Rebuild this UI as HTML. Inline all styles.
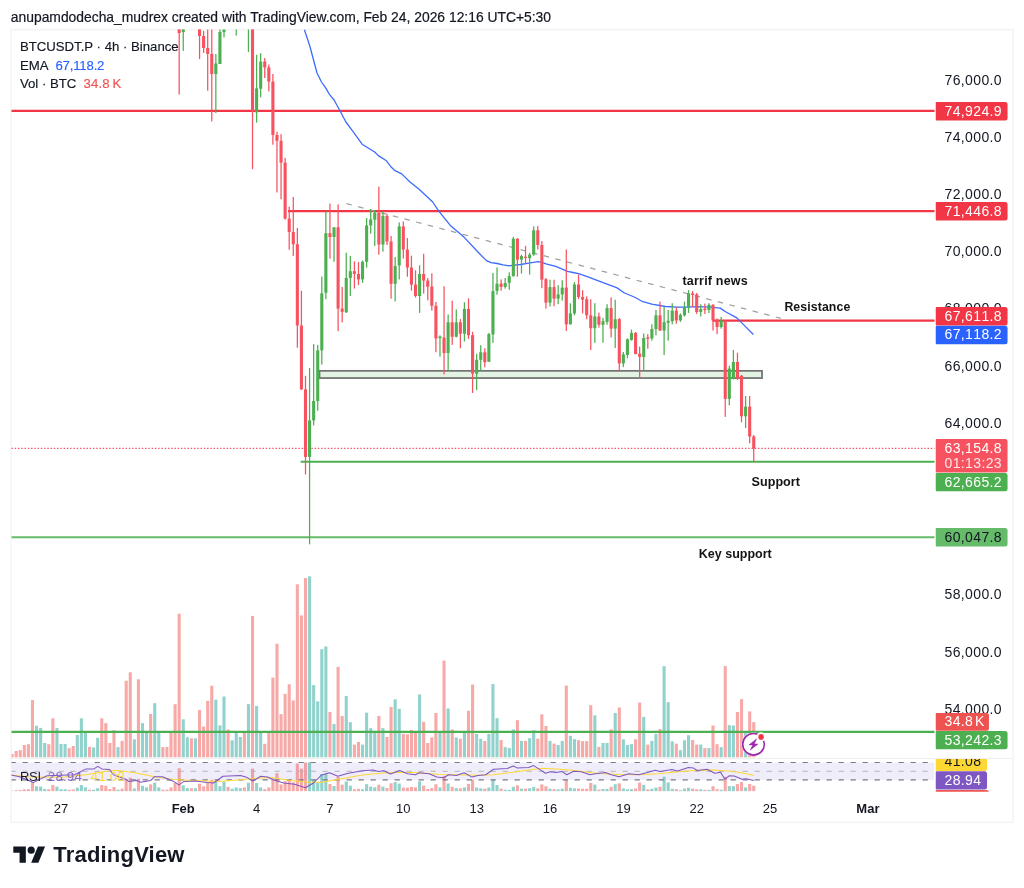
<!DOCTYPE html><html><head><meta charset="utf-8"><title>BTCUSDT.P chart</title><style>
html,body{margin:0;padding:0;background:#fff}
body{width:1024px;height:888px;position:relative;overflow:hidden;font-family:"Liberation Sans",Arial,sans-serif;color:#131722}
.t{position:absolute;white-space:nowrap;line-height:1}
.ax{font-size:14px;letter-spacing:.38px;left:944.5px;font-kerning:none}
.lt{font-size:14px;letter-spacing:.38px;left:944.5px;font-kerning:none}
.tm{font-size:13px;top:801.9px;transform:translateX(-50%)}
.b{font-weight:bold}
.an{font-weight:bold;font-size:12.5px;color:#141414}
.lg{font-size:13.2px;left:19.9px;-webkit-text-stroke:.15px currentColor}

</style></head><body>
<svg width="1024" height="888" viewBox="0 0 1024 888" style="position:absolute;left:0;top:0">
<defs><clipPath id="cm"><rect x="11.5" y="29.5" width="923" height="728.5"/></clipPath><clipPath id="cr"><rect x="11.5" y="759" width="923" height="32.5"/></clipPath></defs>
<rect x="11.1" y="29.7" width="1002.1" height="792.6" fill="#fff" stroke="#F3F3F4" stroke-width="1.4"/>
<line x1="11.5" y1="758.5" x2="1013.5" y2="758.5" stroke="#EFEFF1" stroke-width="1.2"/>
<g clip-path="url(#cm)">
<rect x="10.55" y="754.00" width="3.1" height="3.30" fill="#F7A9A7"/>
<rect x="14.62" y="751.00" width="3.1" height="6.30" fill="#F7A9A7"/>
<rect x="18.70" y="750.10" width="3.1" height="7.20" fill="#F7A9A7"/>
<rect x="22.77" y="745.00" width="3.1" height="12.30" fill="#F7A9A7"/>
<rect x="26.85" y="744.20" width="3.1" height="13.10" fill="#F7A9A7"/>
<rect x="30.92" y="700.10" width="3.1" height="57.20" fill="#F7A9A7"/>
<rect x="35.00" y="725.70" width="3.1" height="31.60" fill="#92D2CC"/>
<rect x="39.08" y="728.00" width="3.1" height="29.30" fill="#92D2CC"/>
<rect x="43.15" y="743.00" width="3.1" height="14.30" fill="#92D2CC"/>
<rect x="47.23" y="744.20" width="3.1" height="13.10" fill="#F7A9A7"/>
<rect x="51.30" y="718.30" width="3.1" height="39.00" fill="#F7A9A7"/>
<rect x="55.38" y="728.00" width="3.1" height="29.30" fill="#92D2CC"/>
<rect x="59.45" y="744.00" width="3.1" height="13.30" fill="#92D2CC"/>
<rect x="63.53" y="744.00" width="3.1" height="13.30" fill="#92D2CC"/>
<rect x="67.60" y="748.10" width="3.1" height="9.20" fill="#F7A9A7"/>
<rect x="71.67" y="746.00" width="3.1" height="11.30" fill="#F7A9A7"/>
<rect x="75.75" y="735.00" width="3.1" height="22.30" fill="#92D2CC"/>
<rect x="79.83" y="718.30" width="3.1" height="39.00" fill="#92D2CC"/>
<rect x="83.90" y="732.90" width="3.1" height="24.40" fill="#92D2CC"/>
<rect x="87.98" y="746.90" width="3.1" height="10.40" fill="#F7A9A7"/>
<rect x="92.05" y="747.50" width="3.1" height="9.80" fill="#92D2CC"/>
<rect x="96.13" y="737.80" width="3.1" height="19.50" fill="#92D2CC"/>
<rect x="100.20" y="718.30" width="3.1" height="39.00" fill="#F7A9A7"/>
<rect x="104.28" y="723.10" width="3.1" height="34.20" fill="#F7A9A7"/>
<rect x="108.35" y="743.00" width="3.1" height="14.30" fill="#F7A9A7"/>
<rect x="112.42" y="730.30" width="3.1" height="27.00" fill="#F7A9A7"/>
<rect x="116.50" y="747.10" width="3.1" height="10.20" fill="#92D2CC"/>
<rect x="120.58" y="740.90" width="3.1" height="16.40" fill="#F7A9A7"/>
<rect x="124.65" y="680.70" width="3.1" height="76.60" fill="#F7A9A7"/>
<rect x="128.72" y="672.30" width="3.1" height="85.00" fill="#F7A9A7"/>
<rect x="132.80" y="739.30" width="3.1" height="18.00" fill="#92D2CC"/>
<rect x="136.88" y="679.30" width="3.1" height="78.00" fill="#F7A9A7"/>
<rect x="140.95" y="723.10" width="3.1" height="34.20" fill="#92D2CC"/>
<rect x="145.02" y="732.90" width="3.1" height="24.40" fill="#92D2CC"/>
<rect x="149.10" y="713.90" width="3.1" height="43.40" fill="#F7A9A7"/>
<rect x="153.18" y="703.20" width="3.1" height="54.10" fill="#92D2CC"/>
<rect x="157.25" y="732.90" width="3.1" height="24.40" fill="#92D2CC"/>
<rect x="161.32" y="747.10" width="3.1" height="10.20" fill="#F7A9A7"/>
<rect x="165.40" y="746.80" width="3.1" height="10.50" fill="#F7A9A7"/>
<rect x="169.47" y="732.90" width="3.1" height="24.40" fill="#F7A9A7"/>
<rect x="173.55" y="704.20" width="3.1" height="53.10" fill="#F7A9A7"/>
<rect x="177.62" y="613.70" width="3.1" height="143.60" fill="#F7A9A7"/>
<rect x="181.70" y="719.30" width="3.1" height="38.00" fill="#92D2CC"/>
<rect x="185.77" y="737.30" width="3.1" height="20.00" fill="#92D2CC"/>
<rect x="189.85" y="738.30" width="3.1" height="19.00" fill="#F7A9A7"/>
<rect x="193.92" y="738.30" width="3.1" height="19.00" fill="#92D2CC"/>
<rect x="198.00" y="710.00" width="3.1" height="47.30" fill="#F7A9A7"/>
<rect x="202.07" y="726.60" width="3.1" height="30.70" fill="#F7A9A7"/>
<rect x="206.15" y="700.90" width="3.1" height="56.40" fill="#F7A9A7"/>
<rect x="210.22" y="685.70" width="3.1" height="71.60" fill="#F7A9A7"/>
<rect x="214.30" y="699.70" width="3.1" height="57.60" fill="#92D2CC"/>
<rect x="218.38" y="725.40" width="3.1" height="31.90" fill="#92D2CC"/>
<rect x="222.45" y="696.50" width="3.1" height="60.80" fill="#92D2CC"/>
<rect x="226.53" y="729.50" width="3.1" height="27.80" fill="#F7A9A7"/>
<rect x="230.60" y="740.30" width="3.1" height="17.00" fill="#92D2CC"/>
<rect x="234.67" y="733.00" width="3.1" height="24.30" fill="#92D2CC"/>
<rect x="238.75" y="737.00" width="3.1" height="20.30" fill="#92D2CC"/>
<rect x="242.82" y="733.00" width="3.1" height="24.30" fill="#F7A9A7"/>
<rect x="246.90" y="704.10" width="3.1" height="53.20" fill="#92D2CC"/>
<rect x="250.97" y="615.90" width="3.1" height="141.40" fill="#F7A9A7"/>
<rect x="255.05" y="705.90" width="3.1" height="51.40" fill="#92D2CC"/>
<rect x="259.12" y="733.00" width="3.1" height="24.30" fill="#92D2CC"/>
<rect x="263.20" y="743.80" width="3.1" height="13.50" fill="#F7A9A7"/>
<rect x="267.28" y="733.00" width="3.1" height="24.30" fill="#F7A9A7"/>
<rect x="271.35" y="677.60" width="3.1" height="79.70" fill="#F7A9A7"/>
<rect x="275.43" y="643.80" width="3.1" height="113.50" fill="#F7A9A7"/>
<rect x="279.50" y="714.10" width="3.1" height="43.20" fill="#F7A9A7"/>
<rect x="283.57" y="693.80" width="3.1" height="63.50" fill="#F7A9A7"/>
<rect x="287.65" y="684.30" width="3.1" height="73.00" fill="#F7A9A7"/>
<rect x="291.72" y="700.50" width="3.1" height="56.80" fill="#F7A9A7"/>
<rect x="295.80" y="584.30" width="3.1" height="173.00" fill="#F7A9A7"/>
<rect x="299.88" y="615.40" width="3.1" height="141.90" fill="#F7A9A7"/>
<rect x="303.95" y="578.10" width="3.1" height="179.20" fill="#F7A9A7"/>
<rect x="308.03" y="576.30" width="3.1" height="181.00" fill="#92D2CC"/>
<rect x="312.10" y="685.10" width="3.1" height="72.20" fill="#92D2CC"/>
<rect x="316.18" y="701.40" width="3.1" height="55.90" fill="#92D2CC"/>
<rect x="320.25" y="649.20" width="3.1" height="108.10" fill="#92D2CC"/>
<rect x="324.32" y="646.50" width="3.1" height="110.80" fill="#92D2CC"/>
<rect x="328.40" y="711.90" width="3.1" height="45.40" fill="#F7A9A7"/>
<rect x="332.48" y="724.10" width="3.1" height="33.20" fill="#92D2CC"/>
<rect x="336.55" y="666.80" width="3.1" height="90.50" fill="#F7A9A7"/>
<rect x="340.62" y="715.90" width="3.1" height="41.40" fill="#F7A9A7"/>
<rect x="344.70" y="695.90" width="3.1" height="61.40" fill="#92D2CC"/>
<rect x="348.77" y="722.20" width="3.1" height="35.10" fill="#92D2CC"/>
<rect x="352.85" y="744.60" width="3.1" height="12.70" fill="#F7A9A7"/>
<rect x="356.93" y="741.90" width="3.1" height="15.40" fill="#F7A9A7"/>
<rect x="361.00" y="744.60" width="3.1" height="12.70" fill="#92D2CC"/>
<rect x="365.07" y="712.70" width="3.1" height="44.60" fill="#92D2CC"/>
<rect x="369.15" y="728.10" width="3.1" height="29.20" fill="#92D2CC"/>
<rect x="373.23" y="732.20" width="3.1" height="25.10" fill="#92D2CC"/>
<rect x="377.30" y="715.90" width="3.1" height="41.40" fill="#F7A9A7"/>
<rect x="381.38" y="728.10" width="3.1" height="29.20" fill="#92D2CC"/>
<rect x="385.45" y="737.00" width="3.1" height="20.30" fill="#F7A9A7"/>
<rect x="389.52" y="707.00" width="3.1" height="50.30" fill="#F7A9A7"/>
<rect x="393.60" y="699.30" width="3.1" height="58.00" fill="#92D2CC"/>
<rect x="397.68" y="708.90" width="3.1" height="48.40" fill="#92D2CC"/>
<rect x="401.75" y="733.90" width="3.1" height="23.40" fill="#F7A9A7"/>
<rect x="405.82" y="734.30" width="3.1" height="23.00" fill="#F7A9A7"/>
<rect x="409.90" y="730.00" width="3.1" height="27.30" fill="#F7A9A7"/>
<rect x="413.98" y="732.90" width="3.1" height="24.40" fill="#F7A9A7"/>
<rect x="418.05" y="694.40" width="3.1" height="62.90" fill="#92D2CC"/>
<rect x="422.12" y="721.80" width="3.1" height="35.50" fill="#F7A9A7"/>
<rect x="426.20" y="743.00" width="3.1" height="14.30" fill="#F7A9A7"/>
<rect x="430.27" y="737.40" width="3.1" height="19.90" fill="#F7A9A7"/>
<rect x="434.35" y="713.00" width="3.1" height="44.30" fill="#F7A9A7"/>
<rect x="438.43" y="732.90" width="3.1" height="24.40" fill="#92D2CC"/>
<rect x="442.50" y="660.60" width="3.1" height="96.70" fill="#F7A9A7"/>
<rect x="446.57" y="708.50" width="3.1" height="48.80" fill="#92D2CC"/>
<rect x="450.65" y="729.40" width="3.1" height="27.90" fill="#F7A9A7"/>
<rect x="454.73" y="737.40" width="3.1" height="19.90" fill="#92D2CC"/>
<rect x="458.80" y="738.70" width="3.1" height="18.60" fill="#F7A9A7"/>
<rect x="462.88" y="732.90" width="3.1" height="24.40" fill="#92D2CC"/>
<rect x="466.95" y="710.80" width="3.1" height="46.50" fill="#F7A9A7"/>
<rect x="471.03" y="684.60" width="3.1" height="72.70" fill="#F7A9A7"/>
<rect x="475.10" y="733.90" width="3.1" height="23.40" fill="#92D2CC"/>
<rect x="479.18" y="738.70" width="3.1" height="18.60" fill="#92D2CC"/>
<rect x="483.25" y="740.90" width="3.1" height="16.40" fill="#F7A9A7"/>
<rect x="487.32" y="733.90" width="3.1" height="23.40" fill="#92D2CC"/>
<rect x="491.40" y="684.10" width="3.1" height="73.20" fill="#92D2CC"/>
<rect x="495.48" y="718.20" width="3.1" height="39.10" fill="#92D2CC"/>
<rect x="499.55" y="740.10" width="3.1" height="17.20" fill="#F7A9A7"/>
<rect x="503.62" y="747.10" width="3.1" height="10.20" fill="#92D2CC"/>
<rect x="507.70" y="747.90" width="3.1" height="9.40" fill="#92D2CC"/>
<rect x="511.78" y="729.40" width="3.1" height="27.90" fill="#92D2CC"/>
<rect x="515.85" y="720.20" width="3.1" height="37.10" fill="#F7A9A7"/>
<rect x="519.93" y="740.90" width="3.1" height="16.40" fill="#92D2CC"/>
<rect x="524.00" y="740.90" width="3.1" height="16.40" fill="#F7A9A7"/>
<rect x="528.08" y="738.20" width="3.1" height="19.10" fill="#92D2CC"/>
<rect x="532.15" y="730.30" width="3.1" height="27.00" fill="#92D2CC"/>
<rect x="536.23" y="738.70" width="3.1" height="18.60" fill="#F7A9A7"/>
<rect x="540.30" y="714.30" width="3.1" height="43.00" fill="#F7A9A7"/>
<rect x="544.38" y="726.00" width="3.1" height="31.30" fill="#F7A9A7"/>
<rect x="548.45" y="740.90" width="3.1" height="16.40" fill="#92D2CC"/>
<rect x="552.53" y="743.60" width="3.1" height="13.70" fill="#F7A9A7"/>
<rect x="556.60" y="745.00" width="3.1" height="12.30" fill="#92D2CC"/>
<rect x="560.68" y="740.90" width="3.1" height="16.40" fill="#92D2CC"/>
<rect x="564.75" y="685.60" width="3.1" height="71.70" fill="#F7A9A7"/>
<rect x="568.83" y="735.80" width="3.1" height="21.50" fill="#92D2CC"/>
<rect x="572.90" y="739.10" width="3.1" height="18.20" fill="#92D2CC"/>
<rect x="576.98" y="740.10" width="3.1" height="17.20" fill="#F7A9A7"/>
<rect x="581.05" y="741.10" width="3.1" height="16.20" fill="#F7A9A7"/>
<rect x="585.13" y="741.10" width="3.1" height="16.20" fill="#F7A9A7"/>
<rect x="589.20" y="705.20" width="3.1" height="52.10" fill="#F7A9A7"/>
<rect x="593.28" y="715.30" width="3.1" height="42.00" fill="#92D2CC"/>
<rect x="597.35" y="746.90" width="3.1" height="10.40" fill="#F7A9A7"/>
<rect x="601.43" y="743.00" width="3.1" height="14.30" fill="#92D2CC"/>
<rect x="605.50" y="743.00" width="3.1" height="14.30" fill="#92D2CC"/>
<rect x="609.58" y="729.40" width="3.1" height="27.90" fill="#F7A9A7"/>
<rect x="613.65" y="713.00" width="3.1" height="44.30" fill="#92D2CC"/>
<rect x="617.73" y="707.50" width="3.1" height="49.80" fill="#F7A9A7"/>
<rect x="621.80" y="739.30" width="3.1" height="18.00" fill="#92D2CC"/>
<rect x="625.88" y="745.00" width="3.1" height="12.30" fill="#92D2CC"/>
<rect x="629.95" y="744.20" width="3.1" height="13.10" fill="#92D2CC"/>
<rect x="634.03" y="739.30" width="3.1" height="18.00" fill="#F7A9A7"/>
<rect x="638.10" y="702.60" width="3.1" height="54.70" fill="#F7A9A7"/>
<rect x="642.18" y="716.90" width="3.1" height="40.40" fill="#92D2CC"/>
<rect x="646.25" y="744.60" width="3.1" height="12.70" fill="#F7A9A7"/>
<rect x="650.33" y="740.90" width="3.1" height="16.40" fill="#92D2CC"/>
<rect x="654.40" y="733.90" width="3.1" height="23.40" fill="#92D2CC"/>
<rect x="658.48" y="729.00" width="3.1" height="28.30" fill="#F7A9A7"/>
<rect x="662.55" y="666.10" width="3.1" height="91.20" fill="#92D2CC"/>
<rect x="666.63" y="702.20" width="3.1" height="55.10" fill="#92D2CC"/>
<rect x="670.70" y="741.30" width="3.1" height="16.00" fill="#92D2CC"/>
<rect x="674.78" y="743.60" width="3.1" height="13.70" fill="#F7A9A7"/>
<rect x="678.85" y="750.10" width="3.1" height="7.20" fill="#92D2CC"/>
<rect x="682.93" y="740.30" width="3.1" height="17.00" fill="#92D2CC"/>
<rect x="687.00" y="735.20" width="3.1" height="22.10" fill="#92D2CC"/>
<rect x="691.08" y="740.10" width="3.1" height="17.20" fill="#F7A9A7"/>
<rect x="695.15" y="744.60" width="3.1" height="12.70" fill="#F7A9A7"/>
<rect x="699.23" y="744.60" width="3.1" height="12.70" fill="#92D2CC"/>
<rect x="703.30" y="748.10" width="3.1" height="9.20" fill="#F7A9A7"/>
<rect x="707.38" y="748.10" width="3.1" height="9.20" fill="#92D2CC"/>
<rect x="711.45" y="725.50" width="3.1" height="31.80" fill="#F7A9A7"/>
<rect x="715.53" y="744.20" width="3.1" height="13.10" fill="#F7A9A7"/>
<rect x="719.60" y="747.10" width="3.1" height="10.20" fill="#92D2CC"/>
<rect x="723.68" y="666.10" width="3.1" height="91.20" fill="#F7A9A7"/>
<rect x="727.75" y="725.10" width="3.1" height="32.20" fill="#92D2CC"/>
<rect x="731.83" y="725.50" width="3.1" height="31.80" fill="#92D2CC"/>
<rect x="735.90" y="712.00" width="3.1" height="45.30" fill="#F7A9A7"/>
<rect x="739.98" y="699.10" width="3.1" height="58.20" fill="#F7A9A7"/>
<rect x="744.05" y="732.90" width="3.1" height="24.40" fill="#92D2CC"/>
<rect x="748.13" y="711.40" width="3.1" height="45.90" fill="#F7A9A7"/>
<rect x="752.20" y="722.10" width="3.1" height="35.20" fill="#F7A9A7"/>
</g>
<g>
<line x1="11.5" y1="110.9" x2="934.5" y2="110.9" stroke="#F23645" stroke-width="2.4"/>
<line x1="288" y1="211.1" x2="934.5" y2="211.1" stroke="#F23645" stroke-width="2.4"/>
<line x1="712.5" y1="320.6" x2="934.5" y2="320.6" stroke="#F23645" stroke-width="2.4"/>
<line x1="300.7" y1="461.7" x2="934.5" y2="461.7" stroke="#4CAF50" stroke-width="2"/>
<line x1="11.5" y1="537.2" x2="934.5" y2="537.2" stroke="#66BB6A" stroke-width="2"/>
<line x1="11.5" y1="731.9" x2="934.5" y2="731.9" stroke="#4CAF50" stroke-width="2.2"/>
<line x1="11.5" y1="448.4" x2="934.5" y2="448.4" stroke="#F7525F" stroke-width="1.4" stroke-dasharray="1.4 1.86"/>
<rect x="319.5" y="370.85" width="442.5" height="7.2" fill="#E2F3E4" stroke="#737373" stroke-width="1.76"/>
<line x1="346.5" y1="203.6" x2="781" y2="318.4" stroke="#A0A0A0" stroke-width="1.25" stroke-dasharray="5.5 6.5"/>
</g>
<polyline fill="none" stroke="#3D6BFF" stroke-width="1.3" stroke-linejoin="round" points="304.4,29.8 309.8,46.0 317.0,73.0 321.5,82.0 326.0,88.4 329.6,94.7 334.1,100.0 340.5,111.8 345.9,122.0 353.1,131.6 362.1,144.2 374.7,152.0 378.3,155.6 386.4,160.8 390.9,166.7 394.5,170.3 401.7,173.9 410.0,182.0 419.1,189.3 432.7,202.0 438.6,210.8 450.3,225.4 464.0,237.1 477.7,251.8 486.4,260.6 491.0,262.6 497.2,263.5 503.0,264.9 508.9,265.9 514.0,265.2 520.6,264.5 530.4,262.9 538.2,261.6 542.0,262.3 546.0,263.9 555.8,266.4 567.5,271.3 573.0,272.5 579.5,273.9 589.3,277.4 603.0,282.7 616.6,287.6 624.5,293.0 634.2,297.0 642.0,301.3 651.8,304.2 665.5,306.5 677.2,307.1 687.0,307.1 696.7,306.7 710.4,307.1 720.2,308.1 726.0,312.0 736.8,317.9 745.5,326.6 753.4,334.5"/>
<g clip-path="url(#cm)">
<rect x="178.55" y="29.00" width="1.25" height="65.60" fill="#F7525F"/>
<rect x="177.62" y="29.00" width="3.1" height="4.00" fill="#F7525F"/>
<rect x="182.62" y="29.00" width="1.25" height="21.90" fill="#4CAF50"/>
<rect x="181.70" y="29.00" width="3.1" height="3.00" fill="#4CAF50"/>
<rect x="198.93" y="29.00" width="1.25" height="30.00" fill="#F7525F"/>
<rect x="198.00" y="29.00" width="3.1" height="7.00" fill="#F7525F"/>
<rect x="203.00" y="31.00" width="1.25" height="22.00" fill="#F7525F"/>
<rect x="202.07" y="36.00" width="3.1" height="12.00" fill="#F7525F"/>
<rect x="207.08" y="29.00" width="1.25" height="61.80" fill="#F7525F"/>
<rect x="206.15" y="48.00" width="3.1" height="6.00" fill="#F7525F"/>
<rect x="211.15" y="29.00" width="1.25" height="92.40" fill="#F7525F"/>
<rect x="210.22" y="54.00" width="3.1" height="20.00" fill="#F7525F"/>
<rect x="215.22" y="54.00" width="1.25" height="59.00" fill="#4CAF50"/>
<rect x="214.30" y="63.50" width="3.1" height="10.50" fill="#4CAF50"/>
<rect x="219.30" y="29.00" width="1.25" height="35.00" fill="#4CAF50"/>
<rect x="218.38" y="32.00" width="3.1" height="32.00" fill="#4CAF50"/>
<rect x="223.38" y="29.00" width="1.25" height="8.50" fill="#4CAF50"/>
<rect x="222.45" y="29.50" width="3.1" height="2.50" fill="#4CAF50"/>
<rect x="235.60" y="29.00" width="1.25" height="6.60" fill="#4CAF50"/>
<rect x="247.83" y="29.00" width="1.25" height="23.00" fill="#4CAF50"/>
<rect x="251.90" y="29.00" width="1.25" height="140.20" fill="#F7525F"/>
<rect x="250.97" y="29.00" width="3.1" height="82.60" fill="#F7525F"/>
<rect x="255.98" y="54.80" width="1.25" height="67.80" fill="#4CAF50"/>
<rect x="255.05" y="88.40" width="3.1" height="24.00" fill="#4CAF50"/>
<rect x="260.05" y="53.20" width="1.25" height="44.20" fill="#4CAF50"/>
<rect x="259.12" y="61.60" width="3.1" height="27.10" fill="#4CAF50"/>
<rect x="264.12" y="58.00" width="1.25" height="20.00" fill="#F7525F"/>
<rect x="263.20" y="61.60" width="3.1" height="5.80" fill="#F7525F"/>
<rect x="268.20" y="64.60" width="1.25" height="26.80" fill="#F7525F"/>
<rect x="267.28" y="67.40" width="3.1" height="14.20" fill="#F7525F"/>
<rect x="272.27" y="74.00" width="1.25" height="70.70" fill="#F7525F"/>
<rect x="271.35" y="81.60" width="3.1" height="53.40" fill="#F7525F"/>
<rect x="276.35" y="131.80" width="1.25" height="60.70" fill="#F7525F"/>
<rect x="275.43" y="135.00" width="3.1" height="5.80" fill="#F7525F"/>
<rect x="280.43" y="134.20" width="1.25" height="65.10" fill="#F7525F"/>
<rect x="279.50" y="140.80" width="3.1" height="21.80" fill="#F7525F"/>
<rect x="284.50" y="157.80" width="1.25" height="61.90" fill="#F7525F"/>
<rect x="283.57" y="162.60" width="3.1" height="56.00" fill="#F7525F"/>
<rect x="288.58" y="206.70" width="1.25" height="43.00" fill="#F7525F"/>
<rect x="287.65" y="218.60" width="3.1" height="13.40" fill="#F7525F"/>
<rect x="292.65" y="197.00" width="1.25" height="58.90" fill="#F7525F"/>
<rect x="291.72" y="232.00" width="3.1" height="12.30" fill="#F7525F"/>
<rect x="296.73" y="228.00" width="1.25" height="119.70" fill="#F7525F"/>
<rect x="295.80" y="244.30" width="3.1" height="81.20" fill="#F7525F"/>
<rect x="300.80" y="290.80" width="1.25" height="99.20" fill="#F7525F"/>
<rect x="299.88" y="325.50" width="3.1" height="63.80" fill="#F7525F"/>
<rect x="304.88" y="375.80" width="1.25" height="98.70" fill="#F7525F"/>
<rect x="303.95" y="389.30" width="3.1" height="67.60" fill="#F7525F"/>
<rect x="308.95" y="367.90" width="1.25" height="176.40" fill="#4CAF50"/>
<rect x="308.03" y="420.40" width="3.1" height="36.50" fill="#4CAF50"/>
<rect x="313.02" y="344.10" width="1.25" height="81.30" fill="#4CAF50"/>
<rect x="312.10" y="401.00" width="3.1" height="19.40" fill="#4CAF50"/>
<rect x="317.10" y="344.90" width="1.25" height="65.80" fill="#4CAF50"/>
<rect x="316.18" y="350.40" width="3.1" height="50.60" fill="#4CAF50"/>
<rect x="321.18" y="276.60" width="1.25" height="88.00" fill="#4CAF50"/>
<rect x="320.25" y="293.30" width="3.1" height="57.10" fill="#4CAF50"/>
<rect x="325.25" y="211.20" width="1.25" height="87.90" fill="#4CAF50"/>
<rect x="324.32" y="233.20" width="3.1" height="59.60" fill="#4CAF50"/>
<rect x="329.32" y="203.60" width="1.25" height="55.10" fill="#F7525F"/>
<rect x="328.40" y="233.20" width="3.1" height="3.80" fill="#F7525F"/>
<rect x="333.40" y="227.30" width="1.25" height="34.50" fill="#4CAF50"/>
<rect x="332.48" y="227.30" width="3.1" height="9.70" fill="#4CAF50"/>
<rect x="337.48" y="204.40" width="1.25" height="126.80" fill="#F7525F"/>
<rect x="336.55" y="227.30" width="3.1" height="81.30" fill="#F7525F"/>
<rect x="341.55" y="287.00" width="1.25" height="35.30" fill="#F7525F"/>
<rect x="340.62" y="308.60" width="3.1" height="3.20" fill="#F7525F"/>
<rect x="345.62" y="252.70" width="1.25" height="60.30" fill="#4CAF50"/>
<rect x="344.70" y="277.90" width="3.1" height="34.30" fill="#4CAF50"/>
<rect x="349.70" y="255.90" width="1.25" height="40.10" fill="#4CAF50"/>
<rect x="348.77" y="271.20" width="3.1" height="6.70" fill="#4CAF50"/>
<rect x="353.78" y="261.30" width="1.25" height="27.30" fill="#F7525F"/>
<rect x="352.85" y="271.20" width="3.1" height="2.70" fill="#F7525F"/>
<rect x="357.85" y="262.10" width="1.25" height="22.90" fill="#F7525F"/>
<rect x="356.93" y="273.90" width="3.1" height="5.50" fill="#F7525F"/>
<rect x="361.93" y="260.50" width="1.25" height="22.40" fill="#4CAF50"/>
<rect x="361.00" y="261.80" width="3.1" height="17.60" fill="#4CAF50"/>
<rect x="366.00" y="218.00" width="1.25" height="49.60" fill="#4CAF50"/>
<rect x="365.07" y="225.40" width="3.1" height="36.40" fill="#4CAF50"/>
<rect x="370.07" y="209.00" width="1.25" height="24.60" fill="#4CAF50"/>
<rect x="369.15" y="219.40" width="3.1" height="6.00" fill="#4CAF50"/>
<rect x="374.15" y="210.00" width="1.25" height="35.90" fill="#4CAF50"/>
<rect x="373.23" y="212.70" width="3.1" height="7.00" fill="#4CAF50"/>
<rect x="378.23" y="186.60" width="1.25" height="68.10" fill="#F7525F"/>
<rect x="377.30" y="212.70" width="3.1" height="31.80" fill="#F7525F"/>
<rect x="382.30" y="211.50" width="1.25" height="40.20" fill="#4CAF50"/>
<rect x="381.38" y="215.90" width="3.1" height="28.60" fill="#4CAF50"/>
<rect x="386.38" y="214.00" width="1.25" height="31.00" fill="#F7525F"/>
<rect x="385.45" y="215.90" width="3.1" height="25.60" fill="#F7525F"/>
<rect x="390.45" y="236.00" width="1.25" height="62.70" fill="#F7525F"/>
<rect x="389.52" y="241.50" width="3.1" height="42.30" fill="#F7525F"/>
<rect x="394.53" y="257.00" width="1.25" height="44.50" fill="#4CAF50"/>
<rect x="393.60" y="266.00" width="3.1" height="17.80" fill="#4CAF50"/>
<rect x="398.60" y="222.50" width="1.25" height="57.00" fill="#4CAF50"/>
<rect x="397.68" y="226.40" width="3.1" height="39.10" fill="#4CAF50"/>
<rect x="402.68" y="221.50" width="1.25" height="37.10" fill="#F7525F"/>
<rect x="401.75" y="226.40" width="3.1" height="23.20" fill="#F7525F"/>
<rect x="406.75" y="238.10" width="1.25" height="38.60" fill="#F7525F"/>
<rect x="405.82" y="249.60" width="3.1" height="17.90" fill="#F7525F"/>
<rect x="410.82" y="255.70" width="1.25" height="34.90" fill="#F7525F"/>
<rect x="409.90" y="267.50" width="3.1" height="17.10" fill="#F7525F"/>
<rect x="414.90" y="270.30" width="1.25" height="27.30" fill="#F7525F"/>
<rect x="413.98" y="284.60" width="3.1" height="11.40" fill="#F7525F"/>
<rect x="418.98" y="265.30" width="1.25" height="47.60" fill="#4CAF50"/>
<rect x="418.05" y="273.90" width="3.1" height="22.10" fill="#4CAF50"/>
<rect x="423.05" y="253.80" width="1.25" height="39.80" fill="#F7525F"/>
<rect x="422.12" y="273.90" width="3.1" height="6.70" fill="#F7525F"/>
<rect x="427.12" y="278.00" width="1.25" height="22.30" fill="#F7525F"/>
<rect x="426.20" y="280.60" width="3.1" height="6.10" fill="#F7525F"/>
<rect x="431.20" y="273.30" width="1.25" height="37.30" fill="#F7525F"/>
<rect x="430.27" y="286.50" width="3.1" height="19.30" fill="#F7525F"/>
<rect x="435.28" y="301.90" width="1.25" height="50.30" fill="#F7525F"/>
<rect x="434.35" y="305.80" width="3.1" height="32.70" fill="#F7525F"/>
<rect x="439.35" y="335.40" width="1.25" height="21.20" fill="#4CAF50"/>
<rect x="438.43" y="336.50" width="3.1" height="1.60" fill="#4CAF50"/>
<rect x="443.43" y="286.30" width="1.25" height="88.10" fill="#F7525F"/>
<rect x="442.50" y="337.60" width="3.1" height="15.50" fill="#F7525F"/>
<rect x="447.50" y="314.40" width="1.25" height="56.50" fill="#4CAF50"/>
<rect x="446.57" y="322.30" width="3.1" height="30.80" fill="#4CAF50"/>
<rect x="451.58" y="300.70" width="1.25" height="44.20" fill="#F7525F"/>
<rect x="450.65" y="322.30" width="3.1" height="14.50" fill="#F7525F"/>
<rect x="455.65" y="309.40" width="1.25" height="27.90" fill="#4CAF50"/>
<rect x="454.73" y="322.30" width="3.1" height="14.50" fill="#4CAF50"/>
<rect x="459.73" y="319.10" width="1.25" height="29.20" fill="#F7525F"/>
<rect x="458.80" y="322.30" width="3.1" height="11.40" fill="#F7525F"/>
<rect x="463.80" y="302.30" width="1.25" height="39.20" fill="#4CAF50"/>
<rect x="462.88" y="308.90" width="3.1" height="24.80" fill="#4CAF50"/>
<rect x="467.88" y="298.30" width="1.25" height="40.60" fill="#F7525F"/>
<rect x="466.95" y="308.90" width="3.1" height="26.30" fill="#F7525F"/>
<rect x="471.95" y="331.80" width="1.25" height="61.20" fill="#F7525F"/>
<rect x="471.03" y="335.20" width="3.1" height="38.40" fill="#F7525F"/>
<rect x="476.03" y="353.80" width="1.25" height="36.30" fill="#4CAF50"/>
<rect x="475.10" y="359.80" width="3.1" height="13.80" fill="#4CAF50"/>
<rect x="480.10" y="345.20" width="1.25" height="25.20" fill="#4CAF50"/>
<rect x="479.18" y="352.30" width="3.1" height="7.50" fill="#4CAF50"/>
<rect x="484.18" y="348.30" width="1.25" height="19.00" fill="#F7525F"/>
<rect x="483.25" y="352.30" width="3.1" height="9.90" fill="#F7525F"/>
<rect x="488.25" y="332.90" width="1.25" height="29.10" fill="#4CAF50"/>
<rect x="487.32" y="334.10" width="3.1" height="27.60" fill="#4CAF50"/>
<rect x="492.33" y="272.90" width="1.25" height="69.90" fill="#4CAF50"/>
<rect x="491.40" y="291.10" width="3.1" height="43.30" fill="#4CAF50"/>
<rect x="496.40" y="267.50" width="1.25" height="27.20" fill="#4CAF50"/>
<rect x="495.48" y="283.70" width="3.1" height="7.20" fill="#4CAF50"/>
<rect x="500.48" y="279.40" width="1.25" height="11.30" fill="#F7525F"/>
<rect x="499.55" y="283.70" width="3.1" height="3.20" fill="#F7525F"/>
<rect x="504.55" y="278.00" width="1.25" height="10.70" fill="#4CAF50"/>
<rect x="503.62" y="283.00" width="3.1" height="3.90" fill="#4CAF50"/>
<rect x="508.62" y="272.30" width="1.25" height="17.50" fill="#4CAF50"/>
<rect x="507.70" y="276.20" width="3.1" height="6.60" fill="#4CAF50"/>
<rect x="512.70" y="236.80" width="1.25" height="39.70" fill="#4CAF50"/>
<rect x="511.78" y="238.70" width="3.1" height="37.50" fill="#4CAF50"/>
<rect x="516.78" y="238.10" width="1.25" height="38.50" fill="#F7525F"/>
<rect x="515.85" y="238.70" width="3.1" height="20.90" fill="#F7525F"/>
<rect x="520.85" y="254.70" width="1.25" height="18.90" fill="#4CAF50"/>
<rect x="519.93" y="256.10" width="3.1" height="3.50" fill="#4CAF50"/>
<rect x="524.92" y="245.90" width="1.25" height="17.60" fill="#F7525F"/>
<rect x="524.00" y="256.70" width="3.1" height="1.20" fill="#F7525F"/>
<rect x="529.00" y="252.80" width="1.25" height="21.80" fill="#4CAF50"/>
<rect x="528.08" y="254.70" width="3.1" height="3.50" fill="#4CAF50"/>
<rect x="533.08" y="226.40" width="1.25" height="29.30" fill="#4CAF50"/>
<rect x="532.15" y="230.30" width="3.1" height="24.40" fill="#4CAF50"/>
<rect x="537.15" y="226.00" width="1.25" height="23.50" fill="#F7525F"/>
<rect x="536.23" y="230.30" width="3.1" height="14.70" fill="#F7525F"/>
<rect x="541.23" y="241.00" width="1.25" height="47.20" fill="#F7525F"/>
<rect x="540.30" y="245.00" width="3.1" height="34.60" fill="#F7525F"/>
<rect x="545.30" y="278.00" width="1.25" height="30.60" fill="#F7525F"/>
<rect x="544.38" y="279.30" width="3.1" height="23.30" fill="#F7525F"/>
<rect x="549.38" y="279.70" width="1.25" height="26.80" fill="#4CAF50"/>
<rect x="548.45" y="287.10" width="3.1" height="15.50" fill="#4CAF50"/>
<rect x="553.45" y="279.70" width="1.25" height="26.50" fill="#F7525F"/>
<rect x="552.53" y="287.10" width="3.1" height="11.50" fill="#F7525F"/>
<rect x="557.53" y="285.20" width="1.25" height="19.00" fill="#4CAF50"/>
<rect x="556.60" y="294.40" width="3.1" height="4.20" fill="#4CAF50"/>
<rect x="561.60" y="280.20" width="1.25" height="20.50" fill="#4CAF50"/>
<rect x="560.68" y="287.60" width="3.1" height="6.80" fill="#4CAF50"/>
<rect x="565.67" y="249.50" width="1.25" height="81.50" fill="#F7525F"/>
<rect x="564.75" y="287.60" width="3.1" height="36.70" fill="#F7525F"/>
<rect x="569.75" y="303.30" width="1.25" height="21.20" fill="#4CAF50"/>
<rect x="568.83" y="313.40" width="3.1" height="10.90" fill="#4CAF50"/>
<rect x="573.83" y="282.10" width="1.25" height="33.20" fill="#4CAF50"/>
<rect x="572.90" y="284.50" width="3.1" height="28.90" fill="#4CAF50"/>
<rect x="577.90" y="274.50" width="1.25" height="24.70" fill="#F7525F"/>
<rect x="576.98" y="284.50" width="3.1" height="12.50" fill="#F7525F"/>
<rect x="581.98" y="290.10" width="1.25" height="23.30" fill="#F7525F"/>
<rect x="581.05" y="297.00" width="3.1" height="2.70" fill="#F7525F"/>
<rect x="586.05" y="296.40" width="1.25" height="22.80" fill="#F7525F"/>
<rect x="585.13" y="299.30" width="3.1" height="16.00" fill="#F7525F"/>
<rect x="590.12" y="299.30" width="1.25" height="50.80" fill="#F7525F"/>
<rect x="589.20" y="315.30" width="3.1" height="12.90" fill="#F7525F"/>
<rect x="594.20" y="303.20" width="1.25" height="39.50" fill="#4CAF50"/>
<rect x="593.28" y="316.50" width="3.1" height="11.70" fill="#4CAF50"/>
<rect x="598.27" y="312.60" width="1.25" height="15.00" fill="#F7525F"/>
<rect x="597.35" y="316.50" width="3.1" height="8.20" fill="#F7525F"/>
<rect x="602.35" y="317.90" width="1.25" height="24.80" fill="#4CAF50"/>
<rect x="601.43" y="321.20" width="3.1" height="3.50" fill="#4CAF50"/>
<rect x="606.43" y="304.20" width="1.25" height="20.50" fill="#4CAF50"/>
<rect x="605.50" y="308.10" width="3.1" height="13.70" fill="#4CAF50"/>
<rect x="610.50" y="297.30" width="1.25" height="40.10" fill="#F7525F"/>
<rect x="609.58" y="308.10" width="3.1" height="20.50" fill="#F7525F"/>
<rect x="614.58" y="299.70" width="1.25" height="48.40" fill="#4CAF50"/>
<rect x="613.65" y="319.20" width="3.1" height="9.40" fill="#4CAF50"/>
<rect x="618.65" y="318.00" width="1.25" height="53.60" fill="#F7525F"/>
<rect x="617.73" y="319.20" width="3.1" height="44.20" fill="#F7525F"/>
<rect x="622.73" y="352.00" width="1.25" height="15.10" fill="#4CAF50"/>
<rect x="621.80" y="354.40" width="3.1" height="9.00" fill="#4CAF50"/>
<rect x="626.80" y="338.40" width="1.25" height="19.90" fill="#4CAF50"/>
<rect x="625.88" y="339.30" width="3.1" height="15.70" fill="#4CAF50"/>
<rect x="630.88" y="329.60" width="1.25" height="11.10" fill="#4CAF50"/>
<rect x="629.95" y="332.90" width="3.1" height="7.00" fill="#4CAF50"/>
<rect x="634.95" y="332.00" width="1.25" height="22.40" fill="#F7525F"/>
<rect x="634.03" y="332.90" width="3.1" height="21.10" fill="#F7525F"/>
<rect x="639.02" y="346.60" width="1.25" height="31.80" fill="#F7525F"/>
<rect x="638.10" y="353.60" width="3.1" height="3.30" fill="#F7525F"/>
<rect x="643.10" y="333.50" width="1.25" height="37.10" fill="#4CAF50"/>
<rect x="642.18" y="338.00" width="3.1" height="18.90" fill="#4CAF50"/>
<rect x="647.18" y="334.10" width="1.25" height="14.60" fill="#F7525F"/>
<rect x="646.25" y="337.40" width="3.1" height="1.40" fill="#F7525F"/>
<rect x="651.25" y="324.30" width="1.25" height="16.40" fill="#4CAF50"/>
<rect x="650.33" y="329.00" width="3.1" height="9.40" fill="#4CAF50"/>
<rect x="655.33" y="310.00" width="1.25" height="25.40" fill="#4CAF50"/>
<rect x="654.40" y="315.30" width="3.1" height="13.70" fill="#4CAF50"/>
<rect x="659.40" y="301.60" width="1.25" height="29.30" fill="#F7525F"/>
<rect x="658.48" y="315.30" width="3.1" height="15.20" fill="#F7525F"/>
<rect x="663.48" y="307.10" width="1.25" height="47.90" fill="#4CAF50"/>
<rect x="662.55" y="322.30" width="3.1" height="8.20" fill="#4CAF50"/>
<rect x="667.55" y="310.00" width="1.25" height="30.70" fill="#4CAF50"/>
<rect x="666.63" y="320.80" width="3.1" height="1.90" fill="#4CAF50"/>
<rect x="671.62" y="303.20" width="1.25" height="21.10" fill="#4CAF50"/>
<rect x="670.70" y="310.60" width="3.1" height="10.60" fill="#4CAF50"/>
<rect x="675.70" y="307.10" width="1.25" height="16.60" fill="#F7525F"/>
<rect x="674.78" y="310.60" width="3.1" height="9.80" fill="#F7525F"/>
<rect x="679.77" y="313.40" width="1.25" height="8.40" fill="#4CAF50"/>
<rect x="678.85" y="314.90" width="3.1" height="5.50" fill="#4CAF50"/>
<rect x="683.85" y="301.60" width="1.25" height="14.90" fill="#4CAF50"/>
<rect x="682.93" y="307.50" width="3.1" height="7.80" fill="#4CAF50"/>
<rect x="687.93" y="290.10" width="1.25" height="22.90" fill="#4CAF50"/>
<rect x="687.00" y="293.40" width="3.1" height="14.10" fill="#4CAF50"/>
<rect x="692.00" y="291.10" width="1.25" height="16.00" fill="#F7525F"/>
<rect x="691.08" y="293.40" width="3.1" height="1.60" fill="#F7525F"/>
<rect x="696.08" y="293.00" width="1.25" height="20.90" fill="#F7525F"/>
<rect x="695.15" y="294.40" width="3.1" height="17.60" fill="#F7525F"/>
<rect x="700.15" y="304.20" width="1.25" height="12.30" fill="#4CAF50"/>
<rect x="699.23" y="309.10" width="3.1" height="2.90" fill="#4CAF50"/>
<rect x="704.23" y="303.60" width="1.25" height="10.30" fill="#F7525F"/>
<rect x="703.30" y="308.70" width="3.1" height="1.30" fill="#F7525F"/>
<rect x="708.30" y="303.20" width="1.25" height="9.80" fill="#4CAF50"/>
<rect x="707.38" y="304.80" width="3.1" height="5.20" fill="#4CAF50"/>
<rect x="712.38" y="304.20" width="1.25" height="26.30" fill="#F7525F"/>
<rect x="711.45" y="304.80" width="3.1" height="15.60" fill="#F7525F"/>
<rect x="716.45" y="318.40" width="1.25" height="15.70" fill="#F7525F"/>
<rect x="715.53" y="319.80" width="3.1" height="7.20" fill="#F7525F"/>
<rect x="720.52" y="316.90" width="1.25" height="11.70" fill="#4CAF50"/>
<rect x="719.60" y="320.40" width="3.1" height="6.60" fill="#4CAF50"/>
<rect x="724.60" y="320.00" width="1.25" height="96.90" fill="#F7525F"/>
<rect x="723.68" y="320.80" width="3.1" height="78.10" fill="#F7525F"/>
<rect x="728.68" y="365.70" width="1.25" height="39.60" fill="#4CAF50"/>
<rect x="727.75" y="368.60" width="3.1" height="30.30" fill="#4CAF50"/>
<rect x="732.75" y="350.00" width="1.25" height="29.40" fill="#4CAF50"/>
<rect x="731.83" y="362.00" width="3.1" height="17.00" fill="#4CAF50"/>
<rect x="736.83" y="352.70" width="1.25" height="27.30" fill="#F7525F"/>
<rect x="735.90" y="362.00" width="3.1" height="16.80" fill="#F7525F"/>
<rect x="740.90" y="375.00" width="1.25" height="47.30" fill="#F7525F"/>
<rect x="739.98" y="375.70" width="3.1" height="40.60" fill="#F7525F"/>
<rect x="744.98" y="396.00" width="1.25" height="32.00" fill="#4CAF50"/>
<rect x="744.05" y="406.60" width="3.1" height="9.70" fill="#4CAF50"/>
<rect x="749.05" y="396.00" width="1.25" height="47.30" fill="#F7525F"/>
<rect x="748.13" y="406.60" width="3.1" height="29.90" fill="#F7525F"/>
<rect x="753.12" y="435.00" width="1.25" height="27.00" fill="#F7525F"/>
<rect x="752.20" y="436.50" width="3.1" height="12.00" fill="#F7525F"/>
</g>
<g><circle cx="753.5" cy="744.3" r="11.9" fill="#fff"/><circle cx="753.5" cy="744.3" r="10.8" fill="none" stroke="#9C27B0" stroke-width="1.6"/><circle cx="761.1" cy="736.9" r="4.6" fill="#fff"/><circle cx="761.1" cy="736.9" r="2.8" fill="#F23645"/><polygon points="756.5,739 749,744.9 752.9,744.9 750.3,749.9 757.9,744.1 754.1,744.1" fill="#9C27B0" stroke="#9C27B0" stroke-width="0.6" stroke-linejoin="round"/></g>
<g clip-path="url(#cr)">
<rect x="11.5" y="762.5" width="923" height="17.4" fill="#F0EDFA"/>
<rect x="10.55" y="790.77" width="3.1" height="0.53" fill="#EF5350" fill-opacity="0.5"/>
<rect x="14.62" y="790.29" width="3.1" height="1.01" fill="#EF5350" fill-opacity="0.5"/>
<rect x="18.70" y="790.15" width="3.1" height="1.15" fill="#EF5350" fill-opacity="0.5"/>
<rect x="22.77" y="789.33" width="3.1" height="1.97" fill="#EF5350" fill-opacity="0.5"/>
<rect x="26.85" y="789.20" width="3.1" height="2.10" fill="#EF5350" fill-opacity="0.5"/>
<rect x="30.92" y="782.15" width="3.1" height="9.15" fill="#EF5350" fill-opacity="0.5"/>
<rect x="35.00" y="786.24" width="3.1" height="5.06" fill="#26A69A" fill-opacity="0.5"/>
<rect x="39.08" y="786.61" width="3.1" height="4.69" fill="#26A69A" fill-opacity="0.5"/>
<rect x="43.15" y="789.01" width="3.1" height="2.29" fill="#26A69A" fill-opacity="0.5"/>
<rect x="47.23" y="789.20" width="3.1" height="2.10" fill="#EF5350" fill-opacity="0.5"/>
<rect x="51.30" y="785.06" width="3.1" height="6.24" fill="#EF5350" fill-opacity="0.5"/>
<rect x="55.38" y="786.61" width="3.1" height="4.69" fill="#26A69A" fill-opacity="0.5"/>
<rect x="59.45" y="789.17" width="3.1" height="2.13" fill="#26A69A" fill-opacity="0.5"/>
<rect x="63.53" y="789.17" width="3.1" height="2.13" fill="#26A69A" fill-opacity="0.5"/>
<rect x="67.60" y="789.83" width="3.1" height="1.47" fill="#EF5350" fill-opacity="0.5"/>
<rect x="71.67" y="789.49" width="3.1" height="1.81" fill="#EF5350" fill-opacity="0.5"/>
<rect x="75.75" y="787.73" width="3.1" height="3.57" fill="#26A69A" fill-opacity="0.5"/>
<rect x="79.83" y="785.06" width="3.1" height="6.24" fill="#26A69A" fill-opacity="0.5"/>
<rect x="83.90" y="787.40" width="3.1" height="3.90" fill="#26A69A" fill-opacity="0.5"/>
<rect x="87.98" y="789.64" width="3.1" height="1.66" fill="#EF5350" fill-opacity="0.5"/>
<rect x="92.05" y="789.73" width="3.1" height="1.57" fill="#26A69A" fill-opacity="0.5"/>
<rect x="96.13" y="788.18" width="3.1" height="3.12" fill="#26A69A" fill-opacity="0.5"/>
<rect x="100.20" y="785.06" width="3.1" height="6.24" fill="#EF5350" fill-opacity="0.5"/>
<rect x="104.28" y="785.83" width="3.1" height="5.47" fill="#EF5350" fill-opacity="0.5"/>
<rect x="108.35" y="789.01" width="3.1" height="2.29" fill="#EF5350" fill-opacity="0.5"/>
<rect x="112.42" y="786.98" width="3.1" height="4.32" fill="#EF5350" fill-opacity="0.5"/>
<rect x="116.50" y="789.67" width="3.1" height="1.63" fill="#26A69A" fill-opacity="0.5"/>
<rect x="120.58" y="788.68" width="3.1" height="2.62" fill="#EF5350" fill-opacity="0.5"/>
<rect x="124.65" y="779.04" width="3.1" height="12.26" fill="#EF5350" fill-opacity="0.5"/>
<rect x="128.72" y="777.70" width="3.1" height="13.60" fill="#EF5350" fill-opacity="0.5"/>
<rect x="132.80" y="788.42" width="3.1" height="2.88" fill="#26A69A" fill-opacity="0.5"/>
<rect x="136.88" y="778.82" width="3.1" height="12.48" fill="#EF5350" fill-opacity="0.5"/>
<rect x="140.95" y="785.83" width="3.1" height="5.47" fill="#26A69A" fill-opacity="0.5"/>
<rect x="145.02" y="787.40" width="3.1" height="3.90" fill="#26A69A" fill-opacity="0.5"/>
<rect x="149.10" y="784.36" width="3.1" height="6.94" fill="#EF5350" fill-opacity="0.5"/>
<rect x="153.18" y="782.64" width="3.1" height="8.66" fill="#26A69A" fill-opacity="0.5"/>
<rect x="157.25" y="787.40" width="3.1" height="3.90" fill="#26A69A" fill-opacity="0.5"/>
<rect x="161.32" y="789.67" width="3.1" height="1.63" fill="#EF5350" fill-opacity="0.5"/>
<rect x="165.40" y="789.62" width="3.1" height="1.68" fill="#EF5350" fill-opacity="0.5"/>
<rect x="169.47" y="787.40" width="3.1" height="3.90" fill="#EF5350" fill-opacity="0.5"/>
<rect x="173.55" y="782.80" width="3.1" height="8.50" fill="#EF5350" fill-opacity="0.5"/>
<rect x="177.62" y="768.32" width="3.1" height="22.98" fill="#EF5350" fill-opacity="0.5"/>
<rect x="181.70" y="785.22" width="3.1" height="6.08" fill="#26A69A" fill-opacity="0.5"/>
<rect x="185.77" y="788.10" width="3.1" height="3.20" fill="#26A69A" fill-opacity="0.5"/>
<rect x="189.85" y="788.26" width="3.1" height="3.04" fill="#EF5350" fill-opacity="0.5"/>
<rect x="193.92" y="788.26" width="3.1" height="3.04" fill="#26A69A" fill-opacity="0.5"/>
<rect x="198.00" y="783.73" width="3.1" height="7.57" fill="#EF5350" fill-opacity="0.5"/>
<rect x="202.07" y="786.39" width="3.1" height="4.91" fill="#EF5350" fill-opacity="0.5"/>
<rect x="206.15" y="782.28" width="3.1" height="9.02" fill="#EF5350" fill-opacity="0.5"/>
<rect x="210.22" y="779.84" width="3.1" height="11.46" fill="#EF5350" fill-opacity="0.5"/>
<rect x="214.30" y="782.08" width="3.1" height="9.22" fill="#26A69A" fill-opacity="0.5"/>
<rect x="218.38" y="786.20" width="3.1" height="5.10" fill="#26A69A" fill-opacity="0.5"/>
<rect x="222.45" y="781.57" width="3.1" height="9.73" fill="#26A69A" fill-opacity="0.5"/>
<rect x="226.53" y="786.85" width="3.1" height="4.45" fill="#EF5350" fill-opacity="0.5"/>
<rect x="230.60" y="788.58" width="3.1" height="2.72" fill="#26A69A" fill-opacity="0.5"/>
<rect x="234.67" y="787.41" width="3.1" height="3.89" fill="#26A69A" fill-opacity="0.5"/>
<rect x="238.75" y="788.05" width="3.1" height="3.25" fill="#26A69A" fill-opacity="0.5"/>
<rect x="242.82" y="787.41" width="3.1" height="3.89" fill="#EF5350" fill-opacity="0.5"/>
<rect x="246.90" y="782.79" width="3.1" height="8.51" fill="#26A69A" fill-opacity="0.5"/>
<rect x="250.97" y="768.68" width="3.1" height="22.62" fill="#EF5350" fill-opacity="0.5"/>
<rect x="255.05" y="783.08" width="3.1" height="8.22" fill="#26A69A" fill-opacity="0.5"/>
<rect x="259.12" y="787.41" width="3.1" height="3.89" fill="#26A69A" fill-opacity="0.5"/>
<rect x="263.20" y="789.14" width="3.1" height="2.16" fill="#EF5350" fill-opacity="0.5"/>
<rect x="267.28" y="787.41" width="3.1" height="3.89" fill="#EF5350" fill-opacity="0.5"/>
<rect x="271.35" y="778.55" width="3.1" height="12.75" fill="#EF5350" fill-opacity="0.5"/>
<rect x="275.43" y="773.14" width="3.1" height="18.16" fill="#EF5350" fill-opacity="0.5"/>
<rect x="279.50" y="784.39" width="3.1" height="6.91" fill="#EF5350" fill-opacity="0.5"/>
<rect x="283.57" y="781.14" width="3.1" height="10.16" fill="#EF5350" fill-opacity="0.5"/>
<rect x="287.65" y="779.62" width="3.1" height="11.68" fill="#EF5350" fill-opacity="0.5"/>
<rect x="291.72" y="782.21" width="3.1" height="9.09" fill="#EF5350" fill-opacity="0.5"/>
<rect x="295.80" y="763.62" width="3.1" height="27.68" fill="#EF5350" fill-opacity="0.5"/>
<rect x="299.88" y="768.60" width="3.1" height="22.70" fill="#EF5350" fill-opacity="0.5"/>
<rect x="303.95" y="762.63" width="3.1" height="28.67" fill="#EF5350" fill-opacity="0.5"/>
<rect x="308.03" y="762.34" width="3.1" height="28.96" fill="#26A69A" fill-opacity="0.5"/>
<rect x="312.10" y="779.75" width="3.1" height="11.55" fill="#26A69A" fill-opacity="0.5"/>
<rect x="316.18" y="782.36" width="3.1" height="8.94" fill="#26A69A" fill-opacity="0.5"/>
<rect x="320.25" y="774.00" width="3.1" height="17.30" fill="#26A69A" fill-opacity="0.5"/>
<rect x="324.32" y="773.57" width="3.1" height="17.73" fill="#26A69A" fill-opacity="0.5"/>
<rect x="328.40" y="784.04" width="3.1" height="7.26" fill="#EF5350" fill-opacity="0.5"/>
<rect x="332.48" y="785.99" width="3.1" height="5.31" fill="#26A69A" fill-opacity="0.5"/>
<rect x="336.55" y="776.82" width="3.1" height="14.48" fill="#EF5350" fill-opacity="0.5"/>
<rect x="340.62" y="784.68" width="3.1" height="6.62" fill="#EF5350" fill-opacity="0.5"/>
<rect x="344.70" y="781.48" width="3.1" height="9.82" fill="#26A69A" fill-opacity="0.5"/>
<rect x="348.77" y="785.68" width="3.1" height="5.62" fill="#26A69A" fill-opacity="0.5"/>
<rect x="352.85" y="789.27" width="3.1" height="2.03" fill="#EF5350" fill-opacity="0.5"/>
<rect x="356.93" y="788.84" width="3.1" height="2.46" fill="#EF5350" fill-opacity="0.5"/>
<rect x="361.00" y="789.27" width="3.1" height="2.03" fill="#26A69A" fill-opacity="0.5"/>
<rect x="365.07" y="784.16" width="3.1" height="7.14" fill="#26A69A" fill-opacity="0.5"/>
<rect x="369.15" y="786.63" width="3.1" height="4.67" fill="#26A69A" fill-opacity="0.5"/>
<rect x="373.23" y="787.28" width="3.1" height="4.02" fill="#26A69A" fill-opacity="0.5"/>
<rect x="377.30" y="784.68" width="3.1" height="6.62" fill="#EF5350" fill-opacity="0.5"/>
<rect x="381.38" y="786.63" width="3.1" height="4.67" fill="#26A69A" fill-opacity="0.5"/>
<rect x="385.45" y="788.05" width="3.1" height="3.25" fill="#EF5350" fill-opacity="0.5"/>
<rect x="389.52" y="783.25" width="3.1" height="8.05" fill="#EF5350" fill-opacity="0.5"/>
<rect x="393.60" y="782.02" width="3.1" height="9.28" fill="#26A69A" fill-opacity="0.5"/>
<rect x="397.68" y="783.56" width="3.1" height="7.74" fill="#26A69A" fill-opacity="0.5"/>
<rect x="401.75" y="787.56" width="3.1" height="3.74" fill="#EF5350" fill-opacity="0.5"/>
<rect x="405.82" y="787.62" width="3.1" height="3.68" fill="#EF5350" fill-opacity="0.5"/>
<rect x="409.90" y="786.93" width="3.1" height="4.37" fill="#EF5350" fill-opacity="0.5"/>
<rect x="413.98" y="787.40" width="3.1" height="3.90" fill="#EF5350" fill-opacity="0.5"/>
<rect x="418.05" y="781.24" width="3.1" height="10.06" fill="#26A69A" fill-opacity="0.5"/>
<rect x="422.12" y="785.62" width="3.1" height="5.68" fill="#EF5350" fill-opacity="0.5"/>
<rect x="426.20" y="789.01" width="3.1" height="2.29" fill="#EF5350" fill-opacity="0.5"/>
<rect x="430.27" y="788.12" width="3.1" height="3.18" fill="#EF5350" fill-opacity="0.5"/>
<rect x="434.35" y="784.21" width="3.1" height="7.09" fill="#EF5350" fill-opacity="0.5"/>
<rect x="438.43" y="787.40" width="3.1" height="3.90" fill="#26A69A" fill-opacity="0.5"/>
<rect x="442.50" y="775.83" width="3.1" height="15.47" fill="#EF5350" fill-opacity="0.5"/>
<rect x="446.57" y="783.49" width="3.1" height="7.81" fill="#26A69A" fill-opacity="0.5"/>
<rect x="450.65" y="786.84" width="3.1" height="4.46" fill="#EF5350" fill-opacity="0.5"/>
<rect x="454.73" y="788.12" width="3.1" height="3.18" fill="#26A69A" fill-opacity="0.5"/>
<rect x="458.80" y="788.32" width="3.1" height="2.98" fill="#EF5350" fill-opacity="0.5"/>
<rect x="462.88" y="787.40" width="3.1" height="3.90" fill="#26A69A" fill-opacity="0.5"/>
<rect x="466.95" y="783.86" width="3.1" height="7.44" fill="#EF5350" fill-opacity="0.5"/>
<rect x="471.03" y="779.67" width="3.1" height="11.63" fill="#EF5350" fill-opacity="0.5"/>
<rect x="475.10" y="787.56" width="3.1" height="3.74" fill="#26A69A" fill-opacity="0.5"/>
<rect x="479.18" y="788.32" width="3.1" height="2.98" fill="#26A69A" fill-opacity="0.5"/>
<rect x="483.25" y="788.68" width="3.1" height="2.62" fill="#EF5350" fill-opacity="0.5"/>
<rect x="487.32" y="787.56" width="3.1" height="3.74" fill="#26A69A" fill-opacity="0.5"/>
<rect x="491.40" y="779.59" width="3.1" height="11.71" fill="#26A69A" fill-opacity="0.5"/>
<rect x="495.48" y="785.04" width="3.1" height="6.26" fill="#26A69A" fill-opacity="0.5"/>
<rect x="499.55" y="788.55" width="3.1" height="2.75" fill="#EF5350" fill-opacity="0.5"/>
<rect x="503.62" y="789.67" width="3.1" height="1.63" fill="#26A69A" fill-opacity="0.5"/>
<rect x="507.70" y="789.80" width="3.1" height="1.50" fill="#26A69A" fill-opacity="0.5"/>
<rect x="511.78" y="786.84" width="3.1" height="4.46" fill="#26A69A" fill-opacity="0.5"/>
<rect x="515.85" y="785.36" width="3.1" height="5.94" fill="#EF5350" fill-opacity="0.5"/>
<rect x="519.93" y="788.68" width="3.1" height="2.62" fill="#26A69A" fill-opacity="0.5"/>
<rect x="524.00" y="788.68" width="3.1" height="2.62" fill="#EF5350" fill-opacity="0.5"/>
<rect x="528.08" y="788.24" width="3.1" height="3.06" fill="#26A69A" fill-opacity="0.5"/>
<rect x="532.15" y="786.98" width="3.1" height="4.32" fill="#26A69A" fill-opacity="0.5"/>
<rect x="536.23" y="788.32" width="3.1" height="2.98" fill="#EF5350" fill-opacity="0.5"/>
<rect x="540.30" y="784.42" width="3.1" height="6.88" fill="#EF5350" fill-opacity="0.5"/>
<rect x="544.38" y="786.29" width="3.1" height="5.01" fill="#EF5350" fill-opacity="0.5"/>
<rect x="548.45" y="788.68" width="3.1" height="2.62" fill="#26A69A" fill-opacity="0.5"/>
<rect x="552.53" y="789.11" width="3.1" height="2.19" fill="#EF5350" fill-opacity="0.5"/>
<rect x="556.60" y="789.33" width="3.1" height="1.97" fill="#26A69A" fill-opacity="0.5"/>
<rect x="560.68" y="788.68" width="3.1" height="2.62" fill="#26A69A" fill-opacity="0.5"/>
<rect x="564.75" y="779.83" width="3.1" height="11.47" fill="#EF5350" fill-opacity="0.5"/>
<rect x="568.83" y="787.86" width="3.1" height="3.44" fill="#26A69A" fill-opacity="0.5"/>
<rect x="572.90" y="788.39" width="3.1" height="2.91" fill="#26A69A" fill-opacity="0.5"/>
<rect x="576.98" y="788.55" width="3.1" height="2.75" fill="#EF5350" fill-opacity="0.5"/>
<rect x="581.05" y="788.71" width="3.1" height="2.59" fill="#EF5350" fill-opacity="0.5"/>
<rect x="585.13" y="788.71" width="3.1" height="2.59" fill="#EF5350" fill-opacity="0.5"/>
<rect x="589.20" y="782.96" width="3.1" height="8.34" fill="#EF5350" fill-opacity="0.5"/>
<rect x="593.28" y="784.58" width="3.1" height="6.72" fill="#26A69A" fill-opacity="0.5"/>
<rect x="597.35" y="789.64" width="3.1" height="1.66" fill="#EF5350" fill-opacity="0.5"/>
<rect x="601.43" y="789.01" width="3.1" height="2.29" fill="#26A69A" fill-opacity="0.5"/>
<rect x="605.50" y="789.01" width="3.1" height="2.29" fill="#26A69A" fill-opacity="0.5"/>
<rect x="609.58" y="786.84" width="3.1" height="4.46" fill="#EF5350" fill-opacity="0.5"/>
<rect x="613.65" y="784.21" width="3.1" height="7.09" fill="#26A69A" fill-opacity="0.5"/>
<rect x="617.73" y="783.33" width="3.1" height="7.97" fill="#EF5350" fill-opacity="0.5"/>
<rect x="621.80" y="788.42" width="3.1" height="2.88" fill="#26A69A" fill-opacity="0.5"/>
<rect x="625.88" y="789.33" width="3.1" height="1.97" fill="#26A69A" fill-opacity="0.5"/>
<rect x="629.95" y="789.20" width="3.1" height="2.10" fill="#26A69A" fill-opacity="0.5"/>
<rect x="634.03" y="788.42" width="3.1" height="2.88" fill="#EF5350" fill-opacity="0.5"/>
<rect x="638.10" y="782.55" width="3.1" height="8.75" fill="#EF5350" fill-opacity="0.5"/>
<rect x="642.18" y="784.84" width="3.1" height="6.46" fill="#26A69A" fill-opacity="0.5"/>
<rect x="646.25" y="789.27" width="3.1" height="2.03" fill="#EF5350" fill-opacity="0.5"/>
<rect x="650.33" y="788.68" width="3.1" height="2.62" fill="#26A69A" fill-opacity="0.5"/>
<rect x="654.40" y="787.56" width="3.1" height="3.74" fill="#26A69A" fill-opacity="0.5"/>
<rect x="658.48" y="786.77" width="3.1" height="4.53" fill="#EF5350" fill-opacity="0.5"/>
<rect x="662.55" y="776.71" width="3.1" height="14.59" fill="#26A69A" fill-opacity="0.5"/>
<rect x="666.63" y="782.48" width="3.1" height="8.82" fill="#26A69A" fill-opacity="0.5"/>
<rect x="670.70" y="788.74" width="3.1" height="2.56" fill="#26A69A" fill-opacity="0.5"/>
<rect x="674.78" y="789.11" width="3.1" height="2.19" fill="#EF5350" fill-opacity="0.5"/>
<rect x="678.85" y="790.15" width="3.1" height="1.15" fill="#26A69A" fill-opacity="0.5"/>
<rect x="682.93" y="788.58" width="3.1" height="2.72" fill="#26A69A" fill-opacity="0.5"/>
<rect x="687.00" y="787.76" width="3.1" height="3.54" fill="#26A69A" fill-opacity="0.5"/>
<rect x="691.08" y="788.55" width="3.1" height="2.75" fill="#EF5350" fill-opacity="0.5"/>
<rect x="695.15" y="789.27" width="3.1" height="2.03" fill="#EF5350" fill-opacity="0.5"/>
<rect x="699.23" y="789.27" width="3.1" height="2.03" fill="#26A69A" fill-opacity="0.5"/>
<rect x="703.30" y="789.83" width="3.1" height="1.47" fill="#EF5350" fill-opacity="0.5"/>
<rect x="707.38" y="789.83" width="3.1" height="1.47" fill="#26A69A" fill-opacity="0.5"/>
<rect x="711.45" y="786.21" width="3.1" height="5.09" fill="#EF5350" fill-opacity="0.5"/>
<rect x="715.53" y="789.20" width="3.1" height="2.10" fill="#EF5350" fill-opacity="0.5"/>
<rect x="719.60" y="789.67" width="3.1" height="1.63" fill="#26A69A" fill-opacity="0.5"/>
<rect x="723.68" y="776.71" width="3.1" height="14.59" fill="#EF5350" fill-opacity="0.5"/>
<rect x="727.75" y="786.15" width="3.1" height="5.15" fill="#26A69A" fill-opacity="0.5"/>
<rect x="731.83" y="786.21" width="3.1" height="5.09" fill="#26A69A" fill-opacity="0.5"/>
<rect x="735.90" y="784.05" width="3.1" height="7.25" fill="#EF5350" fill-opacity="0.5"/>
<rect x="739.98" y="781.99" width="3.1" height="9.31" fill="#EF5350" fill-opacity="0.5"/>
<rect x="744.05" y="787.40" width="3.1" height="3.90" fill="#26A69A" fill-opacity="0.5"/>
<rect x="748.13" y="783.96" width="3.1" height="7.34" fill="#EF5350" fill-opacity="0.5"/>
<rect x="752.20" y="785.67" width="3.1" height="5.63" fill="#EF5350" fill-opacity="0.5"/>
<line x1="10.6" y1="762.5" x2="929" y2="762.5" stroke="#787B86" stroke-width="1.2" stroke-dasharray="5.2 6.8"/>
<line x1="10.6" y1="771.3" x2="929" y2="771.3" stroke="#B2B5BE" stroke-width="1" stroke-dasharray="5.2 6.8"/>
<line x1="10.6" y1="779.9" x2="929" y2="779.9" stroke="#787B86" stroke-width="1.2" stroke-dasharray="5.2 6.8"/>
<polyline fill="none" stroke="#FDD835" stroke-width="1.05" stroke-linejoin="round" points="11.0,774.9 27.5,776.7 47.0,777.3 66.6,776.7 86.1,774.8 105.7,771.3 117.4,770.5 135.0,772.8 154.5,776.7 174.0,779.6 193.5,780.6 207.2,781.0 216.2,781.6 235.1,780.3 254.1,778.4 270.3,777.6 289.2,780.3 308.1,782.2 321.6,782.2 340.5,778.9 362.2,774.9 383.8,773.0 399.8,772.2 419.3,772.8 438.8,774.4 458.4,774.8 477.9,775.2 493.5,774.8 511.1,772.4 526.7,770.3 542.3,768.3 556.0,768.9 569.7,769.9 590.0,772.4 599.5,773.4 619.1,774.4 638.6,774.8 658.1,773.8 677.7,771.8 697.2,770.3 712.8,769.9 728.4,770.9 740.2,772.4 753.8,775.4"/>
<polyline fill="none" stroke="#7E57C2" stroke-width="1.05" stroke-linejoin="round" points="11.0,774.9 19.7,776.7 33.4,782.6 39.2,779.6 47.0,775.7 74.4,774.8 86.1,768.9 94.0,768.9 97.8,766.4 101.8,768.9 109.6,769.5 113.5,774.8 125.2,779.0 129.1,781.6 136.9,780.6 140.8,782.2 150.6,780.6 154.5,776.7 162.3,776.7 174.0,781.6 178.9,784.9 183.8,781.6 195.5,781.0 207.2,782.6 213.5,783.0 223.0,776.2 240.5,775.4 247.3,777.6 252.7,781.1 260.8,776.2 267.6,777.0 274.3,780.3 283.8,783.0 294.6,784.3 305.4,787.8 313.5,783.0 321.6,774.9 329.7,772.7 337.8,776.2 347.3,773.5 362.2,770.8 373.0,770.0 378.4,771.6 383.8,770.8 390.5,774.0 399.8,770.5 407.6,773.8 415.4,774.8 419.3,772.8 429.0,773.8 436.9,777.1 443.7,777.7 448.6,774.8 456.4,775.4 464.2,772.8 472.0,777.1 477.9,775.4 485.7,774.8 493.5,769.3 507.2,768.5 513.4,766.0 517.0,767.9 528.7,767.5 533.6,765.6 540.4,769.9 545.3,773.2 550.2,771.8 556.0,772.4 561.9,771.4 566.8,774.8 573.6,771.3 581.4,771.8 589.8,774.8 595.6,773.8 605.4,772.4 611.3,774.8 619.1,776.7 628.8,773.8 638.6,774.8 646.4,772.8 655.2,770.3 660.1,771.4 671.8,769.5 677.7,770.9 688.4,767.5 693.3,767.9 697.2,770.5 707.0,769.3 714.8,773.2 720.6,772.2 724.9,779.3 729.4,775.7 734.3,776.1 742.1,779.3 746.0,778.7 753.8,780.6"/>
</g>
<g transform="translate(13.3,843) scale(0.895)" fill="#131722"><path d="M14 22H7V11H0V4h14v18z"/><circle cx="20" cy="8" r="4"/><path d="M28 22h-8l7.5-18h8L28 22z"/></g>
</svg>
<div class="t" id="hdr" style="left:10.8px;top:10.5px;font-size:13.86px;letter-spacing:0px;-webkit-text-stroke:.2px #131722">anupamdodecha_mudrex created with TradingView.com, Feb 24, 2026 12:16 UTC+5:30</div>
<div class="t lg" id="lg1" style="top:39.6px">BTCUSDT.P · 4h · Binance</div>
<div class="t lg" id="lg2" style="top:58.9px">EMA<span style="color:#2962FF;position:absolute;left:35.6px;top:0;letter-spacing:-.2px">67,118.2</span></div>
<div class="t lg" id="lg3" style="top:76.9px">Vol · BTC<span style="color:#EF5350;position:absolute;left:63.5px;top:0;letter-spacing:.2px">34.8<span style="margin-left:2.6px">K</span></span></div>
<div class="t ax" style="top:72.8px">76,000.0</div>
<div class="t ax" style="top:129.8px">74,000.0</div>
<div class="t ax" style="top:187.0px">72,000.0</div>
<div class="t ax" style="top:244.2px">70,000.0</div>
<div class="t ax" style="top:301.4px">68,000.0</div>
<div class="t ax" style="top:358.6px">66,000.0</div>
<div class="t ax" style="top:415.8px">64,000.0</div>
<div class="t ax" style="top:587.4px">58,000.0</div>
<div class="t ax" style="top:644.6px">56,000.0</div>
<div class="t ax" style="top:701.8px">54,000.0</div>
<svg width="1024" height="888" viewBox="0 0 1024 888" style="position:absolute;left:0;top:0"><defs><clipPath id="cl"><rect x="930" y="759" width="90" height="32.7"/></clipPath></defs><path d="M936.75 102.00H1005.05Q1007.55 102.00 1007.55 104.50V118.00Q1007.55 120.50 1005.05 120.50H936.75Q935.75 120.50 935.75 119.50V103.00Q935.75 102.00 936.75 102.00Z" fill="#F23645"/><path d="M936.75 202.00H1005.05Q1007.55 202.00 1007.55 204.50V217.90Q1007.55 220.40 1005.05 220.40H936.75Q935.75 220.40 935.75 219.40V203.00Q935.75 202.00 936.75 202.00Z" fill="#F23645"/><path d="M936.75 307.00H1005.05Q1007.55 307.00 1007.55 309.50V322.90Q1007.55 325.40 1005.05 325.40H936.75Q935.75 325.40 935.75 324.40V308.00Q935.75 307.00 936.75 307.00Z" fill="#F23645"/><path d="M936.75 325.70H1005.05Q1007.55 325.70 1007.55 328.20V341.70Q1007.55 344.20 1005.05 344.20H936.75Q935.75 344.20 935.75 343.20V326.70Q935.75 325.70 936.75 325.70Z" fill="#2962FF"/><path d="M936.75 438.90H1005.05Q1007.55 438.90 1007.55 441.40V470.10Q1007.55 472.60 1005.05 472.60H936.75Q935.75 472.60 935.75 471.60V439.90Q935.75 438.90 936.75 438.90Z" fill="#F7525F"/><path d="M936.75 472.95H1005.05Q1007.55 472.95 1007.55 475.45V488.80Q1007.55 491.30 1005.05 491.30H936.75Q935.75 491.30 935.75 490.30V473.95Q935.75 472.95 936.75 472.95Z" fill="#4CAF50"/><path d="M936.75 528.00H1005.05Q1007.55 528.00 1007.55 530.50V544.00Q1007.55 546.50 1005.05 546.50H936.75Q935.75 546.50 935.75 545.50V529.00Q935.75 528.00 936.75 528.00Z" fill="#66BB6A"/><path d="M936.75 712.90H986.45Q988.95 712.90 988.95 715.40V728.20Q988.95 730.70 986.45 730.70H936.75Q935.75 730.70 935.75 729.70V713.90Q935.75 712.90 936.75 712.90Z" fill="#EF5350"/><path d="M936.75 731.00H1005.05Q1007.55 731.00 1007.55 733.50V746.80Q1007.55 749.30 1005.05 749.30H936.75Q935.75 749.30 935.75 748.30V732.00Q935.75 731.00 936.75 731.00Z" fill="#4CAF50"/><path d="M936.75 752.60H984.55Q987.05 752.60 987.05 755.10V768.50Q987.05 771.00 984.55 771.00H936.75Q935.75 771.00 935.75 770.00V753.60Q935.75 752.60 936.75 752.60Z" fill="#FDD835" clip-path="url(#cl)"/><path d="M936.75 771.30H984.55Q987.05 771.30 987.05 773.80V787.10Q987.05 789.60 984.55 789.60H936.75Q935.75 789.60 935.75 788.60V772.30Q935.75 771.30 936.75 771.30Z" fill="#7E57C2" clip-path="url(#cl)"/><path d="M936.75 789.90H986.45Q988.95 789.90 988.95 792.40V805.50Q988.95 808.00 986.45 808.00H936.75Q935.75 808.00 935.75 807.00V790.90Q935.75 789.90 936.75 789.90Z" fill="#EF5350" clip-path="url(#cl)"/></svg>
<div class="t lt" style="top:103.8px;color:#fff;">74,924.9</div>
<div class="t lt" style="top:203.7px;color:#fff;">71,446.8</div>
<div class="t lt" style="top:308.7px;color:#fff;">67,611.8</div>
<div class="t lt" style="top:327.4px;color:#fff;">67,118.2</div>
<div class="t lt" style="top:440.5px;color:#fff;">63,154.8</div>
<div class="t lt" style="top:455.6px;color:#fff;opacity:.85;">01:13:23</div>
<div class="t lt" style="top:474.6px;color:#fff;">62,665.2</div>
<div class="t lt" style="top:529.8px;color:#131722;">60,047.8</div>
<div class="t lt" style="top:714.3px;color:#fff;">34.8<span style="margin-left:1.6px">K</span></div>
<div class="t lt" style="top:732.6px;color:#fff;">53,242.3</div>
<div style="position:absolute;left:0;top:759px;width:1024px;height:32.7px;overflow:hidden"><div class="t lt" style="top:-4.6px;color:#131722">41.08</div><div class="t lt" style="top:14.4px;color:#fff">28.94</div></div>
<div class="t tm" style="left:61.0px">27</div>
<div class="t tm b" style="left:183.2px">Feb</div>
<div class="t tm" style="left:256.6px">4</div>
<div class="t tm" style="left:329.9px">7</div>
<div class="t tm" style="left:403.3px">10</div>
<div class="t tm" style="left:476.7px">13</div>
<div class="t tm" style="left:550.0px">16</div>
<div class="t tm" style="left:623.4px">19</div>
<div class="t tm" style="left:696.7px">22</div>
<div class="t tm" style="left:770.1px">25</div>
<div class="t tm b" style="left:867.9px">Mar</div>
<div class="t an" id="a1" style="left:682.5px;top:274.7px;letter-spacing:.2px">tarrif news</div>
<div class="t an" id="a2" style="left:784.4px;top:301.1px;font-size:12.3px;letter-spacing:.1px">Resistance</div>
<div class="t an" id="a3" style="left:751.6px;top:475.5px;font-size:12.6px">Support</div>
<div class="t an" id="a4" style="left:698.8px;top:548.3px">Key support</div>
<div class="t" id="rsi" style="left:20px;top:770.2px;font-size:13px"><span style="letter-spacing:-.3px">RSI</span><span style="color:#7E57C2;opacity:.88;position:absolute;left:27.8px;top:-.2px;font-size:13.4px;letter-spacing:.15px">28.94</span><span style="color:#FDD835;opacity:.95;position:absolute;left:70.6px;top:-.2px;font-size:13.4px;letter-spacing:.15px">41.08</span></div>
<div class="t b" id="logo" style="left:53.3px;top:843.5px;font-size:22px;letter-spacing:.2px">TradingView</div>
</body></html>
